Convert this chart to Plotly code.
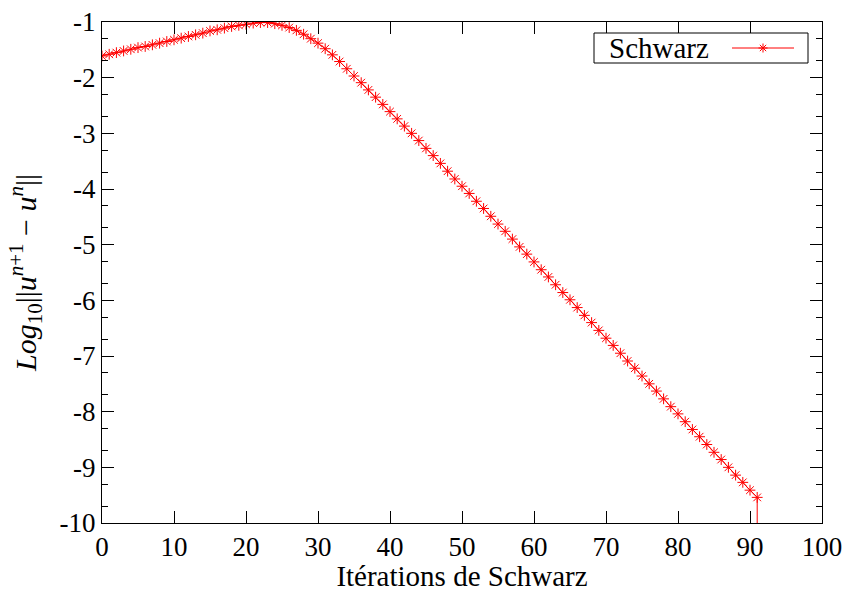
import plotly.graph_objects as go

# ---- data ----
iterations = list(range(0, 92))
log_residual = [
    -1.61, -1.58, -1.55, -1.52, -1.49, -1.46, -1.44, -1.41, -1.38, -1.35,
    -1.32, -1.29, -1.26, -1.23, -1.20, -1.16, -1.14, -1.11, -1.08, -1.06,
    -1.04, -1.02, -1.01, -1.01, -1.03, -1.06, -1.10, -1.15, -1.22, -1.30,
    -1.38, -1.48, -1.59, -1.71, -1.84, -1.97, -2.09, -2.22, -2.35, -2.48,
    -2.61, -2.74, -2.87, -3.00, -3.13, -3.27, -3.40, -3.54, -3.68, -3.82,
    -3.95, -4.08, -4.22, -4.35, -4.49, -4.63, -4.76, -4.90, -5.04, -5.17,
    -5.31, -5.45, -5.58, -5.72, -5.86, -5.99, -6.13, -6.27, -6.40, -6.54,
    -6.68, -6.81, -6.95, -7.09, -7.22, -7.36, -7.50, -7.63, -7.77, -7.91,
    -8.04, -8.18, -8.32, -8.45, -8.59, -8.73, -8.86, -9.00, -9.14, -9.27,
    -9.41, -9.54,
]
# the curve drops off the bottom of the plot after the last iteration
final_drop_x = [91, 91]
final_drop_y = [-9.54, -16.0]

series_name = "Schwarz"
x_ticks = [0, 10, 20, 30, 40, 50, 60, 70, 80, 90, 100]
x_ticklabels = ["0", "10", "20", "30", "40", "50", "60", "70", "80", "90", "100"]
y_ticks = [-1, -2, -3, -4, -5, -6, -7, -8, -9, -10]
y_ticklabels = ["-1", "-2", "-3", "-4", "-5", "-6", "-7", "-8", "-9", "-10"]
y_minor_ticks = [-1.301, -1.699, -2.301, -2.699, -3.301, -3.699, -4.301, -4.699,
                 -5.301, -5.699, -6.301, -6.699, -7.301, -7.699, -8.301, -8.699,
                 -9.301, -9.699]

FONT = "Liberation Serif"
RED = "#ff0000"
W, H = 843, 592
ML, MR, MT, MB = 102, 21, 22, 69
PW, PH = W - ML - MR, H - MT - MB


def px_x(p):  # pixel -> paper x
    return (p - ML) / PW


def px_y(p):  # pixel -> paper y
    return 1 - (p - MT) / PH


fig = go.Figure()
fig.add_trace(go.Scatter(
    x=iterations, y=log_residual, mode="lines+markers", name=series_name,
    line=dict(color=RED, width=1),
    marker=dict(symbol="asterisk-open", size=9, color=RED,
                line=dict(color=RED, width=1)),
    showlegend=False,
))
fig.add_trace(go.Scatter(
    x=final_drop_x, y=final_drop_y, mode="lines", showlegend=False,
    line=dict(color=RED, width=1), hoverinfo="skip",
))

# ---- hand-drawn legend box (text on the left, sample on the right) ----
shapes = [
    dict(type="rect", xref="paper", yref="paper",
         x0=px_x(594), x1=px_x(808), y0=px_y(63), y1=px_y(33),
         line=dict(color="black", width=1), fillcolor="white", layer="above"),
    dict(type="line", xref="paper", yref="paper",
         x0=px_x(732), x1=px_x(794), y0=px_y(48), y1=px_y(48),
         line=dict(color=RED, width=1), layer="above"),
]
cx, cy, r = 763, 48, 4.5
d = r * 0.7071
star_path = (
    f"M{px_x(cx)},{px_y(cy - r)} L{px_x(cx)},{px_y(cy + r)} "
    f"M{px_x(cx - r)},{px_y(cy)} L{px_x(cx + r)},{px_y(cy)} "
    f"M{px_x(cx - d)},{px_y(cy - d)} L{px_x(cx + d)},{px_y(cy + d)} "
    f"M{px_x(cx - d)},{px_y(cy + d)} L{px_x(cx + d)},{px_y(cy - d)}"
)
shapes.append(dict(type="path", xref="paper", yref="paper", path=star_path,
                   line=dict(color=RED, width=1), layer="above"))

annotations = [
    dict(text=series_name, xref="paper", yref="paper", x=px_x(659), y=px_y(48),
         xanchor="center", yanchor="middle", showarrow=False,
         font=dict(family=FONT, size=29, color="black")),
]

fig.update_layout(
    width=W, height=H,
    margin=dict(l=ML, r=MR, t=MT, b=MB),
    paper_bgcolor="white", plot_bgcolor="white",
    font=dict(family=FONT, size=27, color="black"),
    showlegend=False,
    shapes=shapes, annotations=annotations,
    xaxis=dict(
        range=[0, 100], tickmode="array", tickvals=x_ticks, ticktext=x_ticklabels,
        showgrid=False, zeroline=False, showline=True, linecolor="black", linewidth=1,
        mirror="ticks", ticks="inside", ticklen=12, tickcolor="black", tickwidth=1,
        tickfont=dict(family=FONT, size=27), automargin=False,
        title=dict(text="Itérations de Schwarz", font=dict(family=FONT, size=29), standoff=3),
    ),
    yaxis=dict(
        range=[-10, -1], tickmode="array", tickvals=y_ticks, ticktext=y_ticklabels,
        showgrid=False, zeroline=False, showline=True, linecolor="black", linewidth=1,
        mirror="ticks", ticks="inside", ticklen=12, tickcolor="black", tickwidth=1,
        tickfont=dict(family=FONT, size=27), automargin=False,
        minor=dict(tickmode="array", tickvals=y_minor_ticks, ticks="inside",
                   ticklen=6, tickcolor="black", tickwidth=1, showgrid=False),
        title=dict(text="<i>Log</i><sub>10</sub>||<i>u</i><sup><i>n</i>+1</sup> − <i>u</i><sup><i>n</i></sup>||",
                   font=dict(family=FONT, size=30), standoff=14),
    ),
)

fig.write_html("out.html")
